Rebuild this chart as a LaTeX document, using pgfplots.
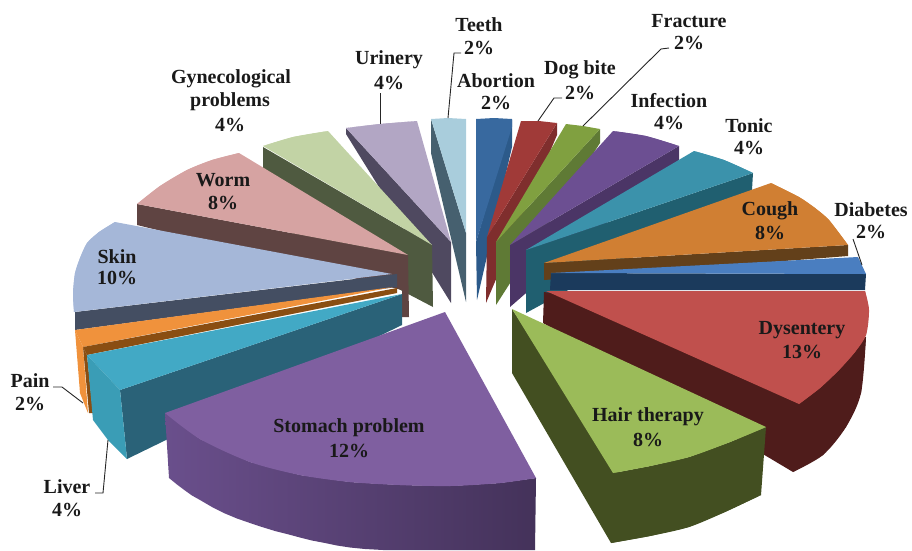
\documentclass[border=0pt]{standalone}
\usepackage{fontspec}
\setmainfont{Liberation Serif}
\usepackage{pgfplots}
\pgfplotsset{compat=1.18}
\newcommand{\poly}[2]{\addplot[draw=none,fill={#1}] coordinates {#2};}
\newcommand{\arcf}[2]{\addplot[draw=none,fill={#1},smooth] coordinates {#2};}
\newcommand{\lab}[3]{\node[anchor=center,inner sep=0pt,font=\fontsize{20}{22}\selectfont\bfseries,text=black!90] at (axis cs:#1,#2) {#3};}
\newcommand{\lead}[1]{\addplot[draw=black!85,line width=0.9pt] coordinates {#1};}
\definecolor{tT}{HTML}{A9CDDC}\definecolor{sT}{HTML}{46606F}
\definecolor{tU}{HTML}{B2A6C4}\definecolor{sU}{HTML}{4F4960}
\definecolor{tG}{HTML}{C2D3A5}\definecolor{sG}{HTML}{4F5A40}
\definecolor{tW}{HTML}{D6A3A2}\definecolor{sW}{HTML}{5F4442}
\definecolor{tS}{HTML}{A5B7D8}\definecolor{sS}{HTML}{444E62}
\definecolor{tP}{HTML}{F0923C}\definecolor{sP}{HTML}{8A4E12}
\definecolor{tL}{HTML}{42A9C5}\definecolor{fL}{HTML}{3A9DB6}\definecolor{sL}{HTML}{2A6278}
\definecolor{tM}{HTML}{7F5FA0}\definecolor{fMa}{HTML}{6A4F8C}\definecolor{fMb}{HTML}{44325A}
\definecolor{tH}{HTML}{9BBB59}\definecolor{sH}{HTML}{434F21}
\definecolor{tD}{HTML}{C0504D}\definecolor{sD}{HTML}{4F1C1B}
\definecolor{tB}{HTML}{4A7EC0}\definecolor{sB}{HTML}{1B3A5C}
\definecolor{tC}{HTML}{D07F33}\definecolor{sC}{HTML}{63401A}
\definecolor{tN}{HTML}{3B92AB}\definecolor{sN}{HTML}{205F70}
\definecolor{tI}{HTML}{6C4F92}\definecolor{sI}{HTML}{4B3566}
\definecolor{tF}{HTML}{80A040}\definecolor{sF}{HTML}{5F7A35}
\definecolor{tO}{HTML}{A03A38}\definecolor{sO}{HTML}{7F2E2D}
\definecolor{tA}{HTML}{38699F}\definecolor{sA}{HTML}{2C5A8A}
\begin{document}
\begin{tikzpicture}
\path[use as bounding box] (0,0) rectangle (912pt,550pt);
\begin{axis}[at={(0,0)},anchor=south west,width=912pt,height=550pt,scale only axis,hide axis,
  xmin=0,xmax=912,ymin=0,ymax=550,y dir=reverse,clip=true]
% left group, back to front
\poly{sT}{(431,119)(466,233)(466,302)(431,153)}
\poly{tT}{(431,119)(448,118)(466,119)(466,233)}
\poly{sU}{(346,128)(451,242)(451,303)(346,134)}
\poly{tU}{(346,128)(380,124)(417,121)(451,242)}
\arcf{tU}{(346,128)(380,124)(417,121)}
\poly{sG}{(263,147)(432,245)(433,307)(263,218)}
\poly{tG}{(263,146)(293,137)(328,131)(432,245)}
\arcf{tG}{(263,146)(293,137)(328,131)}
\poly{sW}{(137,204)(408,255)(409,317)(402,317)(402,290)(137,225)}
\poly{tW}{(137,204)(160,186)(187,170)(212,160)(239,153)(408,255)}
\arcf{tW}{(137,204)(160,186)(187,170)(212,160)(239,153)}
\poly{sS}{(75,312)(397,274)(397,287)(75,330)}
\poly{tS}{(115,222)(99,232)(87,243)(80,258)(75,273)(73,293)(74,312)(392,274)}
\arcf{tS}{(115,222)(99,232)(87,243)(80,258)(75,273)(73,293)(74,312)}
\poly{tP}{(75,330)(393,287)(83,347)}
\poly{sP}{(83,347)(397,288)(397,293)(87,355)}
\poly{tP}{(75,330)(83,347)(88,413)(80,393)}
\poly{sP}{(83,347)(87,355)(93,413)(89,413)}
\poly{sL}{(120,390)(402,294)(402,325)(127,459)}
\poly{tL}{(87,355)(402,294)(120,390)}
\poly{fL}{(87,355)(120,390)(127,459)(108,440)(93,420)}
\addplot[draw=none,left color=fMa,right color=fMb] coordinates {(165,413)(200,439)(250,462)(300,475)(350,482)(400,485)(450,486)(500,483)(536,478)(535,550)(383,550)(365,549)(350,547.5)(337,545.5)(325,543)(312,540.5)(300,537.5)(287,534)(275,531)(262,527)(250,523)(237,518.5)(225,513.5)(212,507)(200,500)(192,495.5)(185,490.5)(177,484.5)(169,478)};
\poly{tM}{(445,312)(536,478)(500,483)(450,486)(400,485)(350,482)(300,475)(250,462)(200,439)(165,413)}
\arcf{tM}{(165,413)(200,439)(250,462)(300,475)(350,482)(400,485)(450,486)(500,483)(536,478)}
% right group
\poly{sA}{(512,120)(512,147)(477,300)(476,242)}
\poly{tA}{(476,119)(494,118)(512,119)(512,127)(476,242)}
\poly{sO}{(557,123)(557,135)(486,303)(487,237)}
\poly{tO}{(521,121)(539,121)(557,123)(487,237)}
\poly{sF}{(600,129)(600,143)(496,305)(496,242)}
\poly{tF}{(566,124)(583,126)(600,129)(496,242)}
\poly{sI}{(679,146)(679,160)(510,307)(510,245)}
\poly{tI}{(613,131)(646,136)(679,146)(510,245)}
\arcf{tI}{(613,131)(646,136)(679,146)}
\poly{sN}{(753,173)(752,190)(526,313)(526,250)}
\poly{tN}{(694,151)(724,160)(753,173)(526,250)}
\arcf{tN}{(694,151)(724,160)(753,173)}
\poly{sC}{(848,245)(848,256)(544,280)(544,263)}
\poly{tC}{(771,183)(799,197)(815,208)(829,220)(848,245)(544,263)}
\arcf{tC}{(771,183)(799,197)(815,208)(829,220)(848,245)}
\poly{sB}{(551,273)(866,274)(865,290)(550,290)}
\poly{tB}{(551,273)(858,257)(866,274)}
\poly{sD}{(544,292)(866,337)(861,393)(846,427)(823,455)(793,472)(543,323)}
\arcf{sD}{(866,337)(861,393)(846,427)(823,455)(793,472)}
\poly{tD}{(546,291)(865,291)(869,310)(866,335)(855,352)(839,370)(820,388)(799,404)}
\arcf{tD}{(865,291)(869,310)(866,335)(855,352)(839,370)(820,388)(799,404)}
\poly{sH}{(512,309)(620,473)(618,541)(611,543)(512,373)}
\poly{sH}{(613,473)(650,466)(689,457)(730,442)(766,427)(761,495)(725,512)(689,527)(650,536)(611,543)}
\arcf{sH}{(761,495)(725,512)(689,527)(650,536)(611,543)}
\poly{tH}{(512,309)(766,427)(730,442)(689,457)(650,466)(613,473)}
\arcf{tH}{(766,427)(730,442)(689,457)(650,466)(613,473)}
% leader lines
\lead{(461,53)(454,53)(448,118)}
\lead{(380,93)(380,124)}
\lead{(562,98)(554,98)(538,121)}
\lead{(669,48)(661,49)(583,126)}
\lead{(853,239)(862,265)}
\lead{(53,387)(62,387)(83,403)}
\lead{(108,440)(103,493)(95,493)}
% labels
\lab{479}{25}{Teeth}\lab{479}{48}{2\%}
\lab{389}{60}{Urinery}\lab{389}{83}{4\%}
\lab{231}{79}{Gynecological}\lab{230}{102}{problems}\lab{230}{125}{4\%}
\lab{496}{81}{Abortion}\lab{496}{103}{2\%}
\lab{580}{70}{Dog bite}\lab{580}{93}{2\%}
\lab{689}{21}{Fracture}\lab{689}{43}{2\%}
\lab{669}{101}{Infection}\lab{669}{123}{4\%}
\lab{749}{126}{Tonic}\lab{749}{148}{4\%}
\lab{770}{211}{Cough}\lab{770}{233}{8\%}
\lab{871}{210}{Diabetes}\lab{871}{232}{2\%}
\lab{223}{180}{Worm}\lab{223}{203}{8\%}
\lab{117}{257}{Skin}\lab{117}{278}{10\%}
\lab{30}{381}{Pain}\lab{30}{404}{2\%}
\lab{67}{487}{Liver}\lab{67}{510}{4\%}
\lab{349}{428}{Stomach problem}\lab{349}{451}{12\%}
\lab{802}{330}{Dysentery}\lab{802}{352}{13\%}
\lab{648}{417}{Hair therapy}\lab{648}{440}{8\%}
\end{axis}
\end{tikzpicture}
\end{document}
